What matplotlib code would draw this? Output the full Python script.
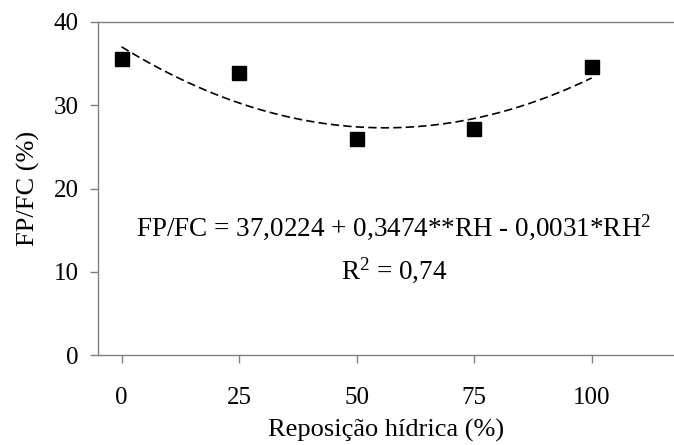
import numpy as np
import matplotlib
matplotlib.use("Agg")
import matplotlib.pyplot as plt

# data
rh = [0, 25, 50, 75, 100]
fpfc = [35.6, 33.9, 25.9, 27.1, 34.6]

# fitted quadratic (coefficients as drawn)
b0, b1, b2 = 37.0224, -0.3474, 0.0031
eq_text = "FP/FC = 37,0224 + 0,3474**RH - 0,0031*RH$^{2}$"
r2_text = "R$^{2}$ = 0,74"

plt.rcParams["font.family"] = "Liberation Serif"
plt.rcParams["mathtext.fontset"] = "custom"
plt.rcParams["mathtext.rm"] = "Liberation Serif"
plt.rcParams["mathtext.it"] = "Liberation Serif"

fig = plt.figure(figsize=(6.74, 4.45), dpi=100)
ax = fig.add_axes([0.1454, 0.2022, 0.8546, 0.7484])

xs = np.linspace(0, 100, 200)
ax.plot(xs, b0 + b1 * xs + b2 * xs ** 2, color="black", lw=1.2,
        linestyle=(0, (5, 2.5)))
ax.plot(rh, fpfc, linestyle="none", marker="s", color="black", markersize=9.5)

ax.text(0.514, 0.360, eq_text, transform=ax.transAxes, ha="center",
        va="baseline", fontsize=19.5)
ax.text(0.514, 0.231, r2_text, transform=ax.transAxes, ha="center",
        va="baseline", fontsize=19.5)

ax.set_xlim(-5, 117.5)
ax.set_ylim(0, 40)
ax.set_xticks(rh)
ax.set_yticks([0, 10, 20, 30, 40])
ax.set_xlabel("Reposição hídrica (%)", fontsize=19, labelpad=7)
ax.set_ylabel("FP/FC (%)", fontsize=19, labelpad=10)

for side in ["left", "top", "bottom"]:
    ax.spines[side].set_color("#808080")
    ax.spines[side].set_linewidth(1.0)
ax.spines["right"].set_visible(False)
ax.tick_params(axis="both", direction="out", color="#808080", length=6,
               width=1.0, labelsize=18, labelcolor="black")
ax.tick_params(axis="x", pad=17)
ax.tick_params(axis="y", pad=8)

fig.savefig("out.png", dpi=100)
